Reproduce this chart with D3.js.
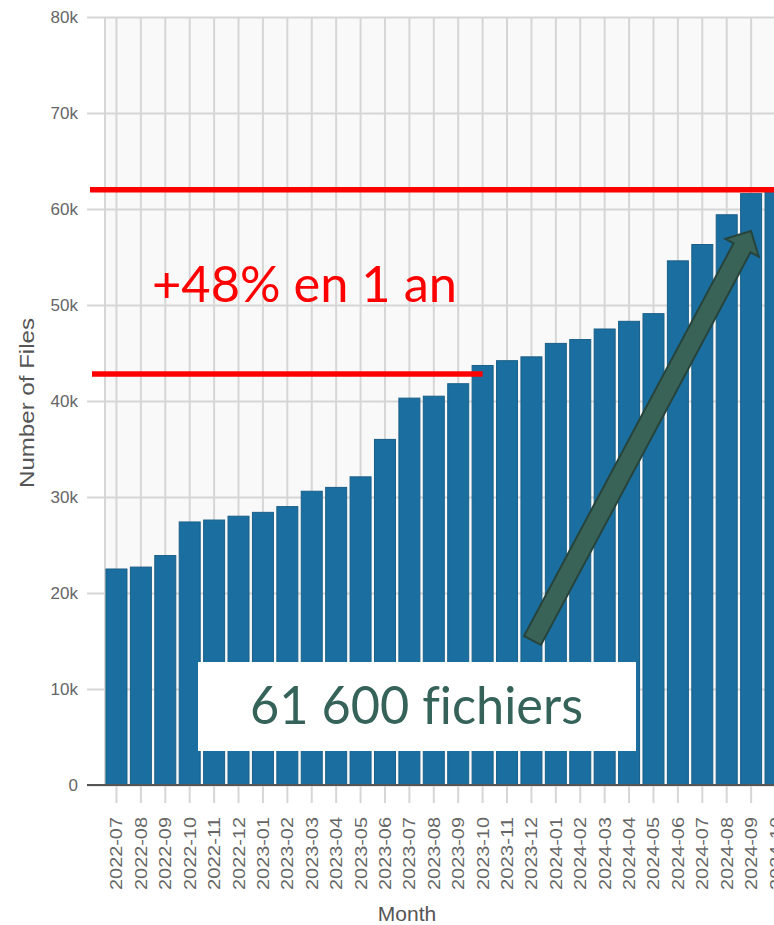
<!DOCTYPE html>
<html>
<head>
<meta charset="utf-8">
<script src="https://cdn.jsdelivr.net/npm/d3@7"></script>
<style>
  body { margin: 0; background: #fff; }
  svg { display: block; }
  text { font-variant-ligatures: none; font-feature-settings: "liga" 0; }
</style>
</head>
<body>
<div id="vis"></div>
<script>
const months = ["2022-07", "2022-08", "2022-09", "2022-10", "2022-11", "2022-12",
                "2023-01", "2023-02", "2023-03", "2023-04", "2023-05", "2023-06",
                "2023-07", "2023-08", "2023-09", "2023-10", "2023-11", "2023-12",
                "2024-01", "2024-02", "2024-03", "2024-04", "2024-05", "2024-06",
                "2024-07", "2024-08", "2024-09", "2024-10"];
const files = [22500, 22700, 23900, 27400, 27600, 28000,
               28400, 29000, 30600, 31000, 32100, 36000,
               40300, 40500, 41800, 43700, 44200, 44600,
               46000, 46400, 47500, 48300, 49100, 54600,
               56300, 59400, 61600, 61900];
const y_ticks = [0, 10000, 20000, 30000, 40000, 50000, 60000, 70000, 80000];

// annotation levels
const level_start = 42800;
const level_now = 62000;
const growth_label = "+48% en 1 an";
const total_label = "61 600 fichiers";

const frame_width = 774;
const frame_height = 925;
const plot = {left: 105, top: 17, bottom: 785, right: 787};

const svg = d3.select("#vis")
  .append("svg")
    .attr("width", frame_width)
    .attr("height", frame_height);

const x_scale = d3.scaleBand()
    .domain(months)
    .range([plot.left, plot.right])
    .paddingInner(0.14)
    .paddingOuter(0.04);

const y_scale = d3.scaleLinear()
    .domain([0, 80000])
    .range([plot.bottom, plot.top]);

// plot background
svg.append("rect")
    .attr("x", plot.left)
    .attr("y", plot.top)
    .attr("width", plot.right - plot.left)
    .attr("height", plot.bottom - plot.top)
    .attr("fill", "#f9f9f9");

// vertical grid + ticks below the axis
svg.append("g")
  .selectAll("line")
  .data(months)
  .enter()
  .append("line")
    .attr("x1", d => x_scale(d) + x_scale.bandwidth() / 2)
    .attr("x2", d => x_scale(d) + x_scale.bandwidth() / 2)
    .attr("y1", plot.top)
    .attr("y2", plot.bottom + 18)
    .attr("stroke", "#d6d6d6")
    .attr("stroke-width", 2);

svg.append("line")
    .attr("x1", plot.left).attr("x2", plot.left)
    .attr("y1", plot.top).attr("y2", plot.bottom)
    .attr("stroke", "#d6d6d6")
    .attr("stroke-width", 2);

// y axis with gridlines
const y_axis = svg.append("g")
    .attr("transform", "translate(" + plot.right + ",0)")
    .call(d3.axisLeft(y_scale)
        .tickValues(y_ticks)
        .tickSize(plot.right - 87)
        .tickPadding(9)
        .tickFormat(d => d === 0 ? "0" : (d / 1000) + "k"));
y_axis.select(".domain").remove();
y_axis.selectAll(".tick line")
    .attr("stroke", "#d6d6d6")
    .attr("stroke-width", 2);
y_axis.selectAll(".tick text")
    .attr("fill", "#666")
    .attr("font-family", "Liberation Sans, Arial, sans-serif")
    .attr("font-size", 17);

// bars
svg.append("g")
  .selectAll("rect")
  .data(files)
  .enter()
  .append("rect")
    .attr("x", (d, i) => x_scale(months[i]))
    .attr("y", d => y_scale(d))
    .attr("width", x_scale.bandwidth())
    .attr("height", d => plot.bottom - y_scale(d))
    .attr("fill", "#1b6fa0")
    .attr("stroke", "#195f88")
    .attr("stroke-width", 1);

// baseline
svg.append("line")
    .attr("x1", 87).attr("x2", plot.right)
    .attr("y1", y_scale(0)).attr("y2", y_scale(0))
    .attr("stroke", "#555")
    .attr("stroke-width", 2);

// x tick labels
svg.append("g")
  .selectAll("text")
  .data(months)
  .enter()
  .append("text")
    .attr("transform", d => "translate(" + (x_scale(d) + x_scale.bandwidth() / 2 + 6) + "," + (plot.bottom + 32) + ") rotate(-90)")
    .attr("text-anchor", "end")
    .attr("fill", "#666")
    .attr("font-family", "Liberation Sans, Arial, sans-serif")
    .attr("font-size", 16)
    .attr("textLength", 73)
    .attr("lengthAdjust", "spacingAndGlyphs")
    .text(d => d);

// axis titles
svg.append("text")
    .attr("transform", "translate(34,403) rotate(-90)")
    .attr("text-anchor", "middle")
    .attr("fill", "#555")
    .attr("font-family", "Liberation Sans, Arial, sans-serif")
    .attr("font-size", 21)
    .attr("textLength", 170)
    .attr("lengthAdjust", "spacingAndGlyphs")
    .text("Number of Files");

svg.append("text")
    .attr("x", 407)
    .attr("y", 921)
    .attr("text-anchor", "middle")
    .attr("fill", "#555")
    .attr("font-family", "Liberation Sans, Arial, sans-serif")
    .attr("font-size", 21)
    .text("Month");

// red level lines
svg.append("line")
    .attr("x1", 90).attr("x2", frame_width)
    .attr("y1", y_scale(level_now)).attr("y2", y_scale(level_now))
    .attr("stroke", "#ff0000")
    .attr("stroke-width", 5.5);

svg.append("line")
    .attr("x1", 92).attr("x2", x_scale("2023-10") + x_scale.bandwidth() / 2)
    .attr("y1", y_scale(level_start)).attr("y2", y_scale(level_start))
    .attr("stroke", "#ff0000")
    .attr("stroke-width", 5.5);

svg.append("text")
    .attr("x", 152)
    .attr("y", 302)
    .attr("fill", "#ff0000")
    .attr("font-family", "Lato, Open Sans, sans-serif")
    .attr("font-size", 50)
    .attr("textLength", 305)
    .attr("lengthAdjust", "spacingAndGlyphs")
    .text(growth_label);

// arrow
const tail = [532.5, 640.5];
const tip = [751, 231];
const dx = tip[0] - tail[0], dy = tip[1] - tail[1];
const len = Math.hypot(dx, dy);
const ux = dx / len, uy = dy / len;
const nx = -uy, ny = ux;
const half_shaft = 9.6, head_len = 19, half_head = 19;
const pt = (a, b) => [tail[0] + ux * a + nx * b, tail[1] + uy * a + ny * b];
const arrow_pts = [
  pt(0, -half_shaft), pt(len - head_len, -half_shaft), pt(len - head_len, -half_head),
  pt(len, 0),
  pt(len - head_len, half_head), pt(len - head_len, half_shaft), pt(0, half_shaft)
];
svg.append("path")
    .attr("d", d3.line()(arrow_pts) + "Z")
    .attr("fill", "#3a6358")
    .attr("stroke", "#26443c")
    .attr("stroke-width", 2)
    .attr("stroke-linejoin", "miter");

// total box
svg.append("rect")
    .attr("x", 198)
    .attr("y", 662)
    .attr("width", 438)
    .attr("height", 89)
    .attr("fill", "#ffffff");

svg.append("text")
    .attr("x", 250)
    .attr("y", 724)
    .attr("fill", "#35635a")
    .attr("font-family", "Lato, Open Sans, sans-serif")
    .attr("font-size", 52)
    .attr("textLength", 333)
    .attr("lengthAdjust", "spacingAndGlyphs")
    .text(total_label);
</script>
</body>
</html>
